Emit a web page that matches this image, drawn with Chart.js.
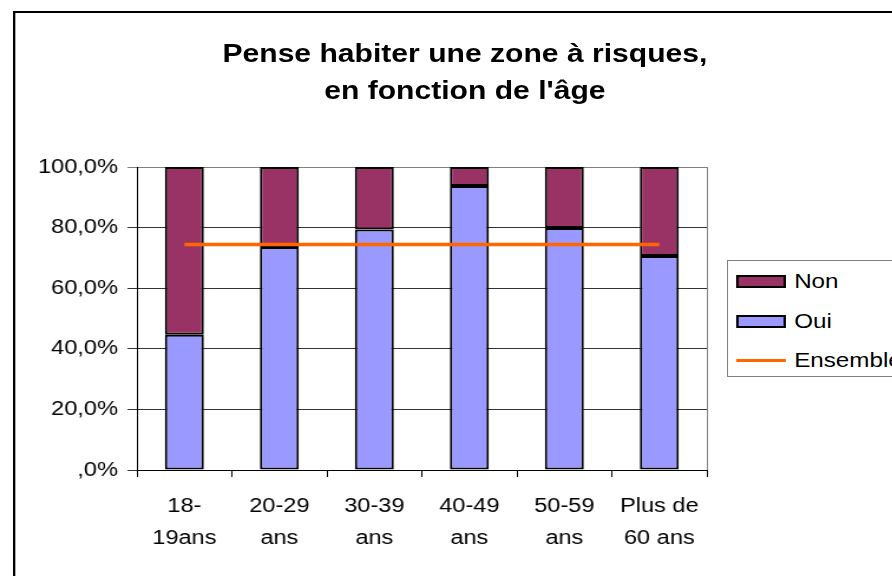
<!DOCTYPE html>
<html lang="fr">
<head>
<meta charset="utf-8">
<title>Pense habiter une zone à risques</title>
<script src="https://cdn.jsdelivr.net/npm/chart.js@4/dist/chart.umd.min.js"></script>
<style>
  html, body { margin: 0; padding: 0; background: #fff; overflow: hidden; }
  body { width: 892px; height: 576px; position: relative; }
  /* the original picture is stretched sideways, so we draw narrow and stretch */
  #stage {
    position: absolute; left: 0; top: 0; width: 756px; height: 576px;
    transform: scaleX(1.18); transform-origin: 0 0;
    font-family: "Liberation Sans", Arial, sans-serif; color: #000;
  }
  #frame {
    position: absolute; left: 11px; top: 11px; width: 900px; height: 700px;
    border-left: 2px solid #000; border-top: 2px solid #000;
  }
  #title {
    position: absolute; left: 94px; width: 600px; top: 35px;
    text-align: center; font-weight: bold; font-size: 25.5px; line-height: 37px;
  }
  #chart { position: absolute; left: 0; top: 0; }
  #legend {
    position: absolute; left: 616px; top: 260px; width: 200px; height: 117px;
    border: 1px solid #808080; background: #fff; box-sizing: border-box;
  }
  .legend-row {
    position: absolute; left: 7px; height: 24px; display: flex; align-items: center;
    font-size: 20.5px; white-space: nowrap;
  }
  .legend-box { width: 42px; height: 13px; border: 2px solid #000; box-sizing: border-box; margin-right: 7px; }
  .legend-line { width: 42px; height: 3px; margin-right: 7px; }
</style>
</head>
<body>
<div id="stage">
  <div id="frame"></div>
  <div id="title">Pense habiter une zone à risques,<br>en fonction de l'âge</div>
  <canvas id="chart" width="756" height="576"></canvas>
  <div id="legend"></div>
</div>
<script>
(() => {
    const categories = [
        ['18-', '19ans'],
        ['20-29', 'ans'],
        ['30-39', 'ans'],
        ['40-49', 'ans'],
        ['50-59', 'ans'],
        ['Plus de', '60 ans']
    ];
    const ouiValues = [44.6, 73.6, 79.4, 93.7, 79.9, 70.6];
    const nonValues = [55.4, 26.4, 20.6, 6.3, 20.1, 29.4];
    const ensembleValues = [74.4, 74.4, 74.4, 74.4, 74.4, 74.4];
    const yTicks = [0, 20, 40, 60, 80, 100];

    function formatPercent(value) {
        if (value === 0) {
            return ',0%';
        }
        return value.toFixed(1).replace('.', ',') + '%';
    }

    Chart.defaults.font.family = '"Liberation Sans", Arial, sans-serif';
    Chart.defaults.font.size = 20;
    Chart.defaults.color = '#000';

    // grey border on the right side of the plot area
    const plotBorder = {
        id: 'plotBorder',
        afterDraw(chart) {
            const { ctx, chartArea } = chart;
            ctx.save();
            ctx.strokeStyle = '#808080';
            ctx.lineWidth = 1;
            ctx.beginPath();
            ctx.moveTo(chartArea.right + 0.5, chartArea.top);
            ctx.lineTo(chartArea.right + 0.5, chartArea.bottom);
            ctx.stroke();
            ctx.restore();
        }
    };

    const chart = new Chart(document.querySelector('#chart'), {
        type: 'bar',
        data: {
            labels: categories,
            datasets: [
                {
                    label: 'Oui',
                    data: ouiValues,
                    backgroundColor: '#9999FF',
                    borderColor: '#000',
                    borderWidth: 2,
                    borderSkipped: false,
                    order: 1
                },
                {
                    label: 'Non',
                    data: nonValues,
                    backgroundColor: '#993366',
                    borderColor: '#000',
                    borderWidth: 2,
                    borderSkipped: false,
                    order: 1
                },
                {
                    type: 'line',
                    label: 'Ensemble',
                    data: ensembleValues,
                    borderColor: '#FF6600',
                    backgroundColor: '#FF6600',
                    borderWidth: 3.5,
                    pointRadius: 0,
                    order: 0
                }
            ]
        },
        options: {
            responsive: false,
            animation: false,
            devicePixelRatio: 1,
            layout: { padding: { top: 167, right: 157, bottom: 0, left: 0 } },
            datasets: { bar: { categoryPercentage: 1, barPercentage: 0.41 } },
            plugins: { legend: { display: false }, tooltip: { enabled: false } },
            scales: {
                x: {
                    stacked: true,
                    grid: { drawOnChartArea: false, tickLength: 7, color: '#000', offset: true },
                    border: { color: '#000', width: 1 },
                    ticks: { padding: 13, maxRotation: 0, autoSkip: false, font: { size: 20, lineHeight: 1.6 } },
                    afterFit: (scale) => { scale.height = 106; }
                },
                y: {
                    stacked: true,
                    min: 0,
                    max: 100,
                    afterBuildTicks: (scale) => { scale.ticks = yTicks.map((v) => ({ value: v })); },
                    grid: {
                        tickLength: 8,
                        color: (ctx) => (ctx.tick && ctx.tick.value === 100 ? '#808080' : '#333')
                    },
                    border: { color: '#000', width: 1 },
                    ticks: { padding: 8, callback: formatPercent },
                    afterFit: (scale) => { scale.width = 116; }
                }
            }
        },
        plugins: [plotBorder]
    });

    /*
     * Legend, Non first as in the original
     */
    const legendElement = document.querySelector('#legend');
    const legendOrder = ['Non', 'Oui', 'Ensemble'];
    const rowTops = [8, 48, 87];
    legendOrder.forEach((name, index) => {
        const dataset = chart.data.datasets.find((d) => d.label === name);
        const row = document.createElement('div');
        row.className = 'legend-row';
        row.style.top = rowTops[index] + 'px';
        const marker = document.createElement('span');
        if (dataset.type === 'line') {
            marker.className = 'legend-line';
            marker.style.background = dataset.borderColor;
        } else {
            marker.className = 'legend-box';
            marker.style.background = dataset.backgroundColor;
        }
        const text = document.createElement('span');
        text.textContent = dataset.label;
        row.append(marker, text);
        legendElement.append(row);
    });
})();
</script>
</body>
</html>
